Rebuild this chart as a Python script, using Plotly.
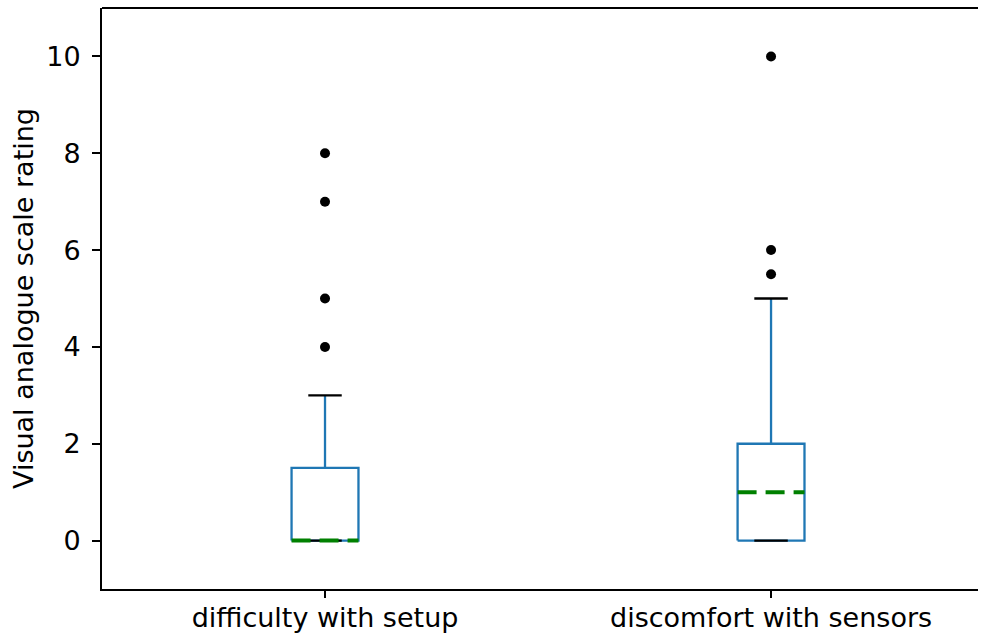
import plotly.graph_objects as go

categories = ["difficulty with setup", "discomfort with sensors"]
positions = [1, 2]
q1 = [0, 0]
median = [0, 1]
q3 = [1.5, 2]
whisker_low = [0, 0]
whisker_high = [3, 5]
outliers = [[4, 5, 7, 8], [5.5, 6, 10]]

BOX_W = 0.15
C0 = "#1f77b4"
FONT = "DejaVu Sans"
FS = 27

box_x, box_y = [], []
wh_x, wh_y = [], []
cap_x, cap_y = [], []
med_x, med_y = [], []
out_x, out_y = [], []
for i, p in enumerate(positions):
    l, r = p - BOX_W / 2, p + BOX_W / 2
    box_x += [l, r, r, l, l, None]
    box_y += [q1[i], q1[i], q3[i], q3[i], q1[i], None]
    wh_x += [p, p, None, p, p, None]
    wh_y += [q1[i], whisker_low[i], None, q3[i], whisker_high[i], None]
    cl, cr = p - BOX_W / 4, p + BOX_W / 4
    cap_x += [cl, cr, None, cl, cr, None]
    cap_y += [whisker_low[i], whisker_low[i], None, whisker_high[i], whisker_high[i], None]
    med_x += [l, r, None]
    med_y += [median[i], median[i], None]
    out_x += [p] * len(outliers[i])
    out_y += outliers[i]

fig = go.Figure()
fig.add_trace(go.Scatter(x=box_x, y=box_y, mode="lines", line=dict(color=C0, width=2.3), hoverinfo="skip"))
fig.add_trace(go.Scatter(x=wh_x, y=wh_y, mode="lines", line=dict(color=C0, width=2.3), hoverinfo="skip"))
fig.add_trace(go.Scatter(x=cap_x, y=cap_y, mode="lines", line=dict(color="black", width=2.3), hoverinfo="skip"))
fig.add_trace(go.Scatter(x=med_x, y=med_y, mode="lines", line=dict(color="green", width=4, dash="19px,9px"), hoverinfo="skip"))
fig.add_trace(go.Scatter(x=out_x, y=out_y, mode="markers", marker=dict(color="black", size=10), hoverinfo="skip"))

fig.update_layout(
    width=981, height=633,
    margin=dict(l=102, r=3, t=8, b=44),
    paper_bgcolor="white", plot_bgcolor="white",
    showlegend=False,
    font=dict(family=FONT, size=FS, color="black"),
    shapes=[dict(type="line", xref="paper", yref="paper", x0=0, x1=1, y0=1, y1=1,
                 line=dict(color="black", width=1.8))],
)
fig.update_xaxes(
    range=[0.5, 2.464], tickvals=positions, ticktext=categories,
    showgrid=False, zeroline=False, showline=True, linecolor="black", linewidth=1.8,
    ticks="outside", ticklen=7, tickwidth=1.8, tickcolor="black",
    ticklabelstandoff=-3, automargin=False,
    tickfont=dict(family=FONT, size=FS, color="black"),
)
fig.update_yaxes(
    range=[-1, 11], tickvals=[0, 2, 4, 6, 8, 10],
    showgrid=False, zeroline=False, showline=True, linecolor="black", linewidth=1.8,
    ticks="outside", ticklen=8, tickwidth=1.8, tickcolor="black",
    ticklabelstandoff=6, automargin=False,
    tickfont=dict(family=FONT, size=FS, color="black"),
    title=dict(text="Visual analogue scale rating", font=dict(family=FONT, size=FS, color="black"), standoff=5),
)
fig.write_html("out.html")
